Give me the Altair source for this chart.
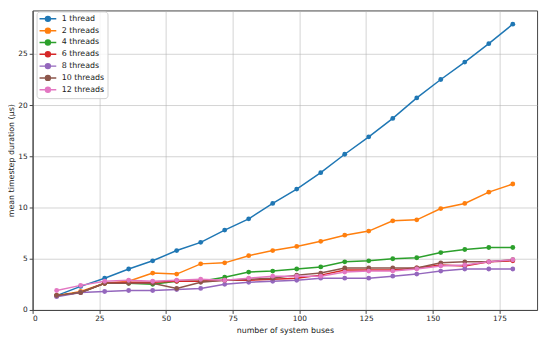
import altair as alt
import pandas as pd

buses = [9, 18, 27, 36, 45, 54, 63, 72, 81, 90, 99, 108, 117, 126, 135, 144, 153, 162, 171, 180]

t1 = [1.4, 2.3, 3.1, 4.0, 4.8, 5.8, 6.6, 7.8, 8.9, 10.4, 11.8, 13.4, 15.2, 16.9, 18.7, 20.7, 22.5, 24.2, 26.0, 27.9]
t2 = [1.4, 1.8, 2.6, 2.8, 3.6, 3.5, 4.5, 4.6, 5.3, 5.8, 6.2, 6.7, 7.3, 7.7, 8.7, 8.8, 9.9, 10.4, 11.5, 12.3]
t4 = [1.4, 1.7, 2.6, 2.6, 2.5, 2.8, 2.8, 3.2, 3.7, 3.8, 4.0, 4.2, 4.7, 4.8, 5.0, 5.1, 5.6, 5.9, 6.1, 6.1]
t6 = [1.4, 1.7, 2.6, 2.7, 2.7, 2.8, 2.8, 2.9, 2.9, 3.0, 3.1, 3.4, 3.9, 3.9, 3.9, 4.1, 4.4, 4.3, 4.7, 4.8]
t8 = [1.3, 1.7, 1.8, 1.9, 1.9, 2.0, 2.1, 2.5, 2.7, 2.8, 2.9, 3.1, 3.1, 3.1, 3.3, 3.5, 3.8, 4.0, 4.0, 4.0]
t10 = [1.4, 1.7, 2.6, 2.6, 2.6, 2.1, 2.7, 2.9, 3.0, 3.1, 3.4, 3.6, 4.1, 4.1, 4.1, 4.1, 4.6, 4.7, 4.7, 4.9]
t12 = [1.9, 2.4, 2.8, 2.9, 2.8, 2.9, 3.0, 2.9, 3.1, 3.3, 3.3, 3.3, 3.7, 3.8, 3.8, 4.0, 4.3, 4.4, 4.7, 4.9]

series_names = ["1 thread", "2 threads", "4 threads", "6 threads", "8 threads", "10 threads", "12 threads"]
series_values = [t1, t2, t4, t6, t8, t10, t12]
colors = ["#1f77b4", "#ff7f0e", "#2ca02c", "#d62728", "#9467bd", "#8c564b", "#e377c2"]

rows = []
for name, vals in zip(series_names, series_values):
    for b, v in zip(buses, vals):
        rows.append({"buses": b, "duration": v, "series": name})
df = pd.DataFrame(rows)

font = "DejaVu Sans"
legend_symbol = ("M-1.125,0H3.125"
                 "M1.62,0A0.62,0.62,0,1,0,0.38,0A0.62,0.62,0,1,0,1.62,0Z")

chart = alt.Chart(df).mark_line(
    strokeWidth=1.5,
    point=alt.OverlayMarkDef(filled=True, size=24, opacity=1),
).encode(
    x=alt.X("buses:Q", title="number of system buses",
            scale=alt.Scale(domain=[0, 189.1], nice=False, zero=False),
            axis=alt.Axis(values=[0, 25, 50, 75, 100, 125, 150, 175],
                          labelPadding=1.5, titlePadding=4)),
    y=alt.Y("duration:Q", title="mean timestep duration (μs)",
            scale=alt.Scale(domain=[0, 29.24], nice=False),
            axis=alt.Axis(values=[0, 5, 10, 15, 20, 25], labelPadding=2, titlePadding=2)),
    color=alt.Color("series:N", sort=series_names,
                    scale=alt.Scale(domain=series_names, range=colors),
                    legend=alt.Legend(title=None, orient="none", legendX=4, legendY=1,
                                      symbolType=legend_symbol,
                                      symbolSize=64, symbolStrokeWidth=1.5,
                                      labelFont=font, labelFontSize=8, labelColor="#222",
                                      labelOffset=13, rowPadding=0, padding=2.5,
                                      cornerRadius=3,
                                      strokeColor="#d0d0d0", fillColor="rgba(255,255,255,0.8)")),
    order=alt.Order("buses:Q"),
).properties(
    width=512,
    height=304,
    autosize=alt.AutoSizeParams(type="none"),
    padding={"left": 25, "top": 0, "right": 5, "bottom": 28},
).configure_view(
    stroke="#444", strokeWidth=1
).configure_axis(
    labelFont=font, titleFont=font, labelFontSize=7.5, titleFontSize=8,
    titleFontWeight="normal", labelColor="#222", titleColor="#222",
    gridColor="#b0b0b0", gridOpacity=0.7, gridWidth=0.8,
    tickColor="#444", tickSize=3.5, domainColor="#444",
)

chart.save("out.html", embed_options={"renderer": "svg", "actions": False})
